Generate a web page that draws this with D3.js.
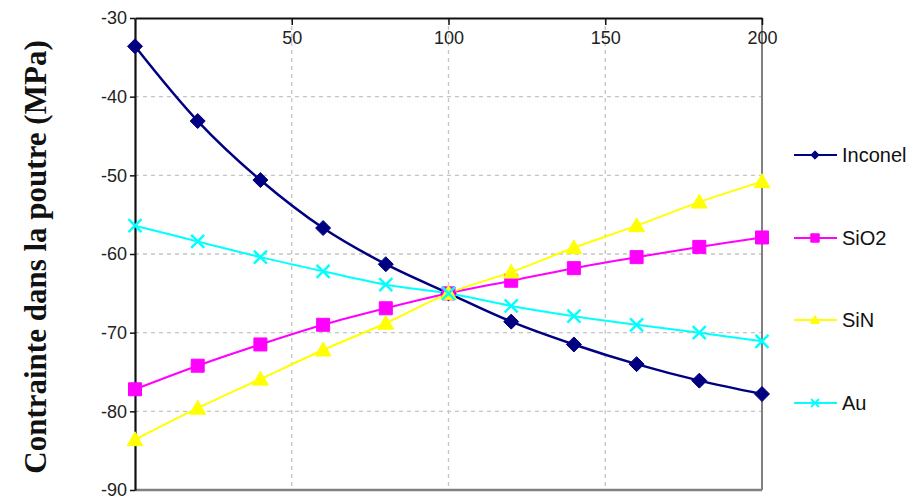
<!DOCTYPE html>
<html><head><meta charset="utf-8">
<script src="https://cdn.jsdelivr.net/npm/d3@7"></script>
<style>body{margin:0;background:#fff}svg{display:block}</style>
</head><body>
<svg id="c" width="924" height="499"></svg>
<script>
const xs = [0,20,40,60,80,100,120,140,160,180,200];
const inconel = [-33.6,-43.1,-50.6,-56.7,-61.3,-65.0,-68.6,-71.5,-74.0,-76.1,-77.8];
const sio2 = [-77.2,-74.2,-71.5,-69.0,-66.9,-65.0,-63.4,-61.8,-60.4,-59.1,-57.9];
const sin = [-83.6,-79.6,-75.9,-72.2,-68.8,-65.0,-62.3,-59.2,-56.4,-53.4,-50.8];
const au = [-56.4,-58.4,-60.4,-62.2,-63.9,-65.0,-66.6,-67.9,-69.0,-70.0,-71.1];
const seriesNames = ["Inconel","SiO2","SiN","Au"];
const xTicks = [50,100,150,200];
const yTicks = [-30,-40,-50,-60,-70,-80,-90];

const series = [
  {name:"Inconel", vals:inconel, color:"#000080", marker:"diamond", w:2.5},
  {name:"SiO2", vals:sio2, color:"#FF00FF", marker:"square", w:2},
  {name:"SiN", vals:sin, color:"#FFFF00", marker:"triangle", w:2},
  {name:"Au", vals:au, color:"#00FFFF", marker:"cross", w:2}
];

const svg = d3.select("#c");
const L=135, R=762, T=18, B=490;
const x = d3.scaleLinear().domain([0,200]).range([L,R]);
const y = d3.scaleLinear().domain([-90,-30]).range([B,T]);
const fmt = d => String(d);

// gridlines
const g = svg.append("g");
g.selectAll(".hg").data(yTicks.filter(v=>v>-90 && v<-30)).join("line")
  .attr("x1",L).attr("x2",R).attr("y1",d=>y(d)).attr("y2",d=>y(d))
  .attr("stroke","#c4c4c4").attr("stroke-width",1.3).attr("stroke-dasharray","4,4");
g.selectAll(".vg").data(xTicks.filter(v=>v<200)).join("line")
  .attr("y1",T).attr("y2",B).attr("x1",d=>x(d)).attr("x2",d=>x(d))
  .attr("stroke","#c4c4c4").attr("stroke-width",1.3).attr("stroke-dasharray","4,4");

// right/bottom borders
svg.append("line").attr("x1",R).attr("x2",R).attr("y1",T).attr("y2",B).attr("stroke","#808080").attr("stroke-width",2);
svg.append("line").attr("x1",L).attr("x2",R).attr("y1",B).attr("y2",B).attr("stroke","#808080").attr("stroke-width",2.5);

// axes
const xAxis = d3.axisTop(x).tickValues(xTicks).tickFormat(fmt).tickSizeInner(-7).tickSizeOuter(0).tickPadding(-26);
const gx = svg.append("g").attr("transform",`translate(0,${T})`).call(xAxis);
gx.select(".domain").attr("stroke","#111").attr("stroke-width",2.2);
gx.selectAll(".tick line").attr("stroke","#111").attr("stroke-width",1.5);
gx.selectAll(".tick text").attr("font-family","Liberation Sans, Arial, sans-serif").attr("font-size",18).attr("fill","#222");

const yAxis = d3.axisLeft(y).tickValues(yTicks).tickFormat(fmt).tickSize(5).tickSizeOuter(0).tickPadding(3);
const gy = svg.append("g").attr("transform",`translate(${L},0)`).call(yAxis);
gy.select(".domain").attr("stroke","#111").attr("stroke-width",2.2);
gy.selectAll(".tick line").attr("stroke","#111").attr("stroke-width",1.5);
gy.selectAll(".tick text").attr("font-family","Liberation Sans, Arial, sans-serif").attr("font-size",18).attr("fill","#222");

// lines
const line = d3.line().x((d,i)=>x(xs[i])).y(d=>y(d)).curve(d3.curveCatmullRom.alpha(0.5));
function markerPath(type, s){
  if(type==="diamond") return `M0,${-s}L${s},0L0,${s}L${-s},0Z`;
  if(type==="square") return `M${-s},${-s}H${s}V${s}H${-s}Z`;
  if(type==="triangle") return `M0,${-s*1.05}L${s*1.05},${s*0.8}L${-s*1.05},${s*0.8}Z`;
  return `M${-s},${-s}L${s},${s}M${-s},${s}L${s},${-s}`;
}
series.forEach(s=>{
  svg.append("path").attr("d",line(s.vals)).attr("fill","none").attr("stroke",s.color).attr("stroke-width",s.w);
});
series.forEach(s=>{
  const size = s.marker==="diamond"?7.5: s.marker==="square"?6.5: s.marker==="triangle"?7.5:6.5;
  svg.append("g").selectAll("path").data(s.vals).join("path")
    .attr("transform",(d,i)=>`translate(${x(xs[i])},${y(d)})`)
    .attr("d",markerPath(s.marker,size))
    .attr("fill",s.marker==="cross"?"none":s.color)
    .attr("stroke",s.color).attr("stroke-width",s.marker==="cross"?2.4:1);
});

// legend
const legY = [155,238,320,403];
series.forEach((s,i)=>{
  const lg = svg.append("g").attr("transform",`translate(0,${legY[i]})`);
  lg.append("line").attr("x1",794).attr("x2",837).attr("y1",0).attr("y2",0).attr("stroke",s.color).attr("stroke-width",2);
  const sz = s.marker==="cross"?4:4.2;
  lg.append("path").attr("transform","translate(815,0)").attr("d",markerPath(s.marker,sz))
    .attr("fill",s.marker==="cross"?"none":s.color).attr("stroke",s.color).attr("stroke-width",s.marker==="cross"?1.8:1);
  lg.append("text").attr("x",842).attr("y",0).attr("dy","0.36em").text(seriesNames[i])
    .attr("font-family","Liberation Sans, Arial, sans-serif").attr("font-size",20).attr("fill","#111");
});

// y-axis title
svg.append("text").attr("transform","translate(46,257) rotate(-90)")
  .attr("text-anchor","middle")
  .attr("font-family","Liberation Serif, Times New Roman, serif").attr("font-weight","bold")
  .attr("font-size",31).attr("fill","#111")
  .text("Contrainte dans la poutre (MPa)");
</script>
</body></html>
